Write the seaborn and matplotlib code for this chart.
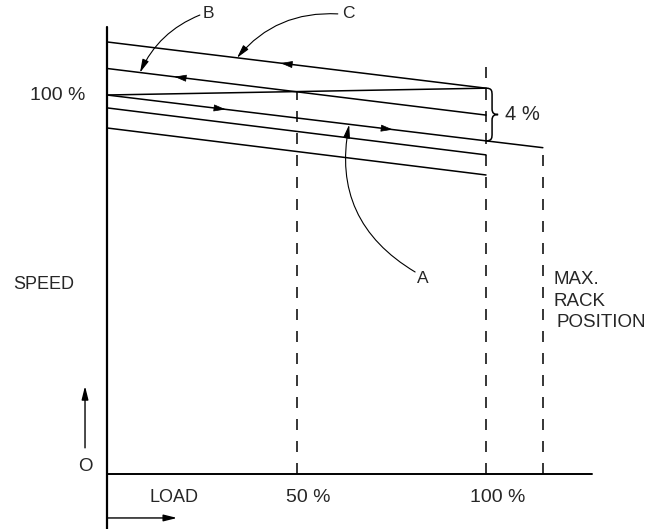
import numpy as np
import pandas as pd
import seaborn as sns
import matplotlib.pyplot as plt
from matplotlib.path import Path
from matplotlib.patches import PathPatch

# speed / load lines (load in %, speed in %)
line_id = ['C', 'C', 'B', 'B', 'iso', 'iso', 'A', 'A', 'A', 'D', 'D', 'E', 'E']
load = [0, 100, 0, 100, 0, 100, 0, 100, 115, 0, 100, 0, 100]
speed = [114.0, 101.8, 107.0, 94.7, 100.0, 101.8, 100.0, 87.9, 86.1, 96.6, 84.2, 91.3, 78.9]

# direction arrows on the lines
arrow_line = ['C', 'B', 'A', 'A']
arrow_load = [47.8, 19.8, 29.3, 73.4]
arrow_dir = [-1, -1, 1, 1]

# dashed verticals
dash_load = [50, 100, 115]
dash_top = [100.9, 110.0, 86.1]

tick_load = [50, 100]
tick_text = ['50 %', '100 %']

sns.set_style('white')
plt.rcParams['font.family'] = ['Liberation Sans', 'DejaVu Sans']

df = pd.DataFrame({'line': line_id, 'load': load, 'speed': speed})

fig = plt.figure(figsize=(6.57, 5.29), dpi=100)
ax = fig.add_axes([0, 0, 1, 1])
sx = 3.79
ax.set_xlim(-107 / sx, (657 - 107) / sx)
ax.set_ylim(-55 / sx, 474 / sx)
ax.axis('off')

sns.lineplot(data=df, x='load', y='speed', units='line', estimator=None,
             sort=False, color='black', lw=1.1, ax=ax)

# axes
ax.plot([0, 0], [-14.5, 118], color='black', lw=1.6)
ax.plot([0, 128], [0, 0], color='black', lw=1.4)

for xl, top in zip(dash_load, dash_top):
    ax.plot([xl, xl], [0, top], color='black', lw=1.1, dashes=(7.2, 7.2))

# arrows along the lines
for name, xl, d in zip(arrow_line, arrow_load, arrow_dir):
    sub = df[df.line == name]
    yl = np.interp(xl, sub.load, sub.speed)
    y2 = np.interp(xl + d * 2, sub.load, sub.speed)
    ax.annotate('', xy=(xl + d * 2, y2), xytext=(xl, yl),
                arrowprops=dict(arrowstyle='-|>,head_length=0.75,head_width=0.22',
                                color='black', lw=0.5, mutation_scale=10,
                                shrinkA=0, shrinkB=0))

# labels A, B, C with curved pointers
lab = ['B', 'C', 'A']
lab_xy = [(26.8, 121.4), (63.8, 121.4), (83.4, 51.5)]
ptr_start = [(24.5, 121.1), (60.9, 121.4), (81.3, 53.3)]
ptr_tip = [(8.7, 105.9), (34.3, 109.8), (63.9, 92.2)]
ptr_rad = [0.2, 0.25, -0.35]
for t, p, s, tip, r in zip(lab, lab_xy, ptr_start, ptr_tip, ptr_rad):
    ax.text(p[0], p[1], t, fontsize=12.5, ha='center', va='center')
    ax.annotate('', xy=tip, xytext=s,
                arrowprops=dict(arrowstyle='-|>,head_length=0.8,head_width=0.2',
                                connectionstyle=f'arc3,rad={r}', color='black',
                                lw=0.8, mutation_scale=10, shrinkA=0, shrinkB=0))

# brace for 4 %
top, bot = 101.8, 87.9
mid = (top + bot) / 2
verts = [(100, top), (101.6, top), (101.6, top - 0.8), (101.6, top - 2),
         (101.6, mid + 1.5),
         (101.6, mid + 0.3), (102.2, mid), (103.2, mid),
         (102.2, mid), (101.6, mid - 0.3), (101.6, mid - 1.5),
         (101.6, bot + 2),
         (101.6, bot + 0.8), (101.6, bot), (100, bot)]
codes = [Path.MOVETO, Path.CURVE4, Path.CURVE4, Path.CURVE4, Path.LINETO,
         Path.CURVE4, Path.CURVE4, Path.CURVE4,
         Path.CURVE4, Path.CURVE4, Path.CURVE4, Path.LINETO,
         Path.CURVE4, Path.CURVE4, Path.CURVE4]
ax.add_patch(PathPatch(Path(verts, codes), fill=False, lw=1.1, color='black'))
ax.text(105, mid, '4 %', fontsize=14.5, ha='left', va='center')

# text
ax.text(-5.8, 100, '100 %', fontsize=14, ha='right', va='center')
ax.text(-24.8, 49.9, 'SPEED', fontsize=13, ha='left', va='center')
ax.text(-5.8, 2.1, 'O', fontsize=13.5, ha='center', va='center')
ax.annotate('', xy=(-5.8, 23.2), xytext=(-5.8, 6.9),
            arrowprops=dict(arrowstyle='-|>,head_length=0.8,head_width=0.2',
                            color='black', lw=1.0, mutation_scale=10,
                            shrinkA=0, shrinkB=0))
ax.text(17.7, -6.1, 'LOAD', fontsize=13, ha='center', va='center')
for xl, t in zip(tick_load, tick_text):
    ax.text(xl + 3, -6.1, t, fontsize=14, ha='center', va='center')
ax.annotate('', xy=(18.5, -11.6), xytext=(0, -11.6),
            arrowprops=dict(arrowstyle='-|>,head_length=0.8,head_width=0.2',
                            color='black', lw=1.0, mutation_scale=10,
                            shrinkA=0, shrinkB=0))
ax.text(117.7, 51.2, 'MAX.', fontsize=13.5, ha='left', va='center')
ax.text(117.9, 45.6, 'RACK', fontsize=13.5, ha='left', va='center')
ax.text(118.5, 40.1, 'POSITION', fontsize=13.5, ha='left', va='center')

fig.savefig('out.png', dpi=100)
